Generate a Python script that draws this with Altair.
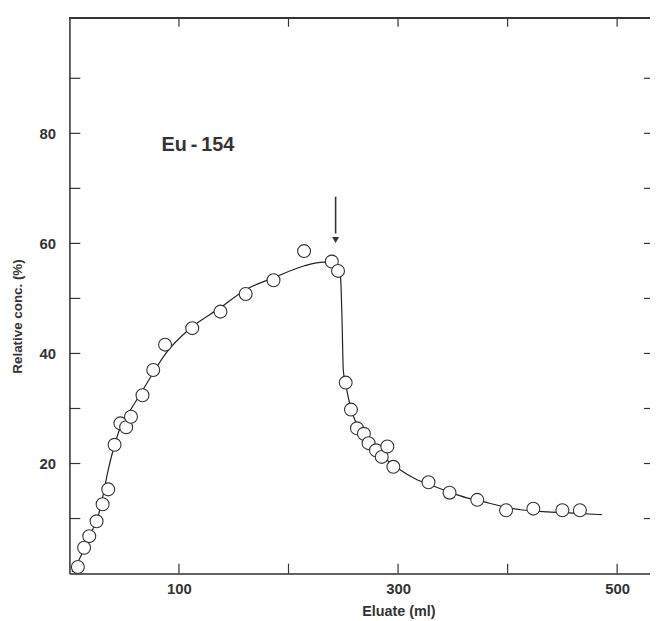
import altair as alt
import pandas as pd

# Measured points (Eluate ml, Relative conc. %)
pts_x = [7.7, 13.4, 18.1, 24.8, 30.3, 35.4, 41.2, 46.5, 51.8, 56.2, 66.7, 76.5, 87.3,
         112.1, 137.9, 160.9, 186.3, 214.2, 239.5, 245.2, 252.2, 257.0, 262.5, 268.8,
         273.1, 279.9, 285.1, 290.2, 295.7, 327.8, 347.0, 372.3, 398.6, 423.5, 450.0, 466.0]
pts_y = [1.2, 4.7, 6.8, 9.5, 12.6, 15.3, 23.4, 27.3, 26.6, 28.5, 32.4, 37.0, 41.6,
         44.6, 47.6, 50.8, 53.3, 58.6, 56.7, 55.0, 34.7, 29.8, 26.4, 25.4,
         23.7, 22.4, 21.2, 23.1, 19.4, 16.6, 14.7, 13.4, 11.5, 11.8, 11.5, 11.5]

# Fitted curve
curve_x = [2.5, 10, 20, 27, 31, 35, 40, 47, 55, 65, 75, 88, 110, 137, 162, 187, 214, 232,
           240, 245, 247, 248, 249, 250, 252, 257, 263, 270, 280, 290, 300, 316, 330,
           347, 362, 375, 400, 412, 437, 460, 486]
curve_y = [0.3, 3, 7.5, 11, 14.5, 18.5, 22.5, 26.8, 29.5, 32.7, 36, 40, 44.5, 48.2, 51.7,
           53.8, 55.9, 56.6, 56.6, 56.1, 55.0, 52, 45, 37, 34.6, 30, 26.8, 24.7, 22.3,
           20.6, 19.1, 17.2, 16.1, 14.8, 13.8, 13.2, 12.0, 11.6, 11.2, 11.0, 10.7]

x_ticks = [100, 200, 300, 400, 500]
x_labels = [100, 300, 500]
y_ticks = [10, 20, 30, 40, 50, 60, 70, 80, 90]
y_labels = [20, 40, 60, 80]

arrow_x = [243]
arrow_top = [68.5]
arrow_base = [61.8]
arrow_tip = [60.6]

label_text = ["Eu\u2009-\u2009154"]
label_x = [84]
label_y = [77.8]

W, H = 586, 561
INK = "#333333"
FONT = "Liberation Sans"

xs = alt.Scale(domain=[0, 530], nice=False, zero=False)
ys = alt.Scale(domain=[0, 101], nice=False, zero=False)

pts = pd.DataFrame({"x": pts_x, "y": pts_y})
cur = pd.DataFrame({"x": curve_x, "y": curve_y})
xt = pd.DataFrame({"x": x_ticks})
yt = pd.DataFrame({"y": y_ticks})
arr = pd.DataFrame({"x": arrow_x, "y": arrow_top, "y2": arrow_base, "tip": arrow_tip})
lab = pd.DataFrame({"t": label_text, "x": label_x, "y": label_y})

curve = alt.Chart(cur).mark_line(color="#222222", strokeWidth=1.2, interpolate="monotone").encode(
    x=alt.X("x:Q", scale=xs, axis=alt.Axis(
        values=x_labels, title="Eluate (ml)", ticks=False, tickSize=0, grid=False,
        domainColor=INK, domainWidth=1.5, labelFont=FONT, labelFontSize=15,
        labelFontWeight="bold", labelColor=INK, labelPadding=8,
        titleFont=FONT, titleFontSize=14.5, titleFontWeight="bold", titleColor=INK,
        titleX=332, titleY=42, titleBaseline="alphabetic", titleAlign="center")),
    y=alt.Y("y:Q", scale=ys, axis=alt.Axis(
        values=y_labels, title="Relative conc. (%)", ticks=False, tickSize=0, grid=False,
        domainColor=INK, domainWidth=1.5, labelFont=FONT, labelFontSize=15,
        labelFontWeight="bold", labelColor=INK, labelPadding=14,
        titleFont=FONT, titleFontSize=13.5, titleFontWeight="bold", titleColor=INK,
        titleX=-52, titleY=301, titleAngle=-90, titleBaseline="middle", titleAlign="center")),
)

points = alt.Chart(pts).mark_point(shape="circle", filled=True, fill="white", stroke=INK,
                                   strokeWidth=1.1, size=170, opacity=1).encode(
    x=alt.X("x:Q", scale=xs), y=alt.Y("y:Q", scale=ys))

bottom_ticks = alt.Chart(xt).mark_rule(color=INK, strokeWidth=1.2).encode(
    x=alt.X("x:Q", scale=xs), y=alt.value(H), y2=alt.value(H - 10))
top_ticks = alt.Chart(xt).mark_rule(color=INK, strokeWidth=1.2).encode(
    x=alt.X("x:Q", scale=xs), y=alt.value(0), y2=alt.value(9))
left_ticks = alt.Chart(yt).mark_rule(color=INK, strokeWidth=1.2).encode(
    y=alt.Y("y:Q", scale=ys), x=alt.value(0), x2=alt.value(11))
right_ticks = alt.Chart(yt).mark_rule(color=INK, strokeWidth=1.2).encode(
    y=alt.Y("y:Q", scale=ys), x=alt.value(W - 6), x2=alt.value(W))
top_line = alt.Chart(xt).mark_rule(color=INK, strokeWidth=1.5).encode(
    x=alt.value(0), x2=alt.value(W), y=alt.value(0))

arrow_shaft = alt.Chart(arr).mark_rule(color=INK, strokeWidth=1.6).encode(
    x=alt.X("x:Q", scale=xs), y=alt.Y("y:Q", scale=ys), y2="y2:Q")
arrow_head = alt.Chart(arr).mark_point(shape="triangle-down", filled=True, color=INK,
                                       size=50, opacity=1).encode(
    x=alt.X("x:Q", scale=xs), y=alt.Y("tip:Q", scale=ys))

label = alt.Chart(lab).mark_text(font=FONT, fontSize=20, fontWeight="bold", color=INK,
                                 align="left", baseline="middle").encode(
    x=alt.X("x:Q", scale=xs), y=alt.Y("y:Q", scale=ys), text="t:N")

chart = alt.layer(curve, points, bottom_ticks, top_ticks, left_ticks, right_ticks, top_line,
                  arrow_shaft, arrow_head, label).properties(
    width=W, height=H,
    autosize=alt.AutoSizeParams(type="none"),
    padding={"left": 62, "top": 7, "right": 0, "bottom": 44},
).configure_view(stroke=None).configure(background="white")

chart.save("out.html", embed_options={"renderer": "svg", "actions": False})
